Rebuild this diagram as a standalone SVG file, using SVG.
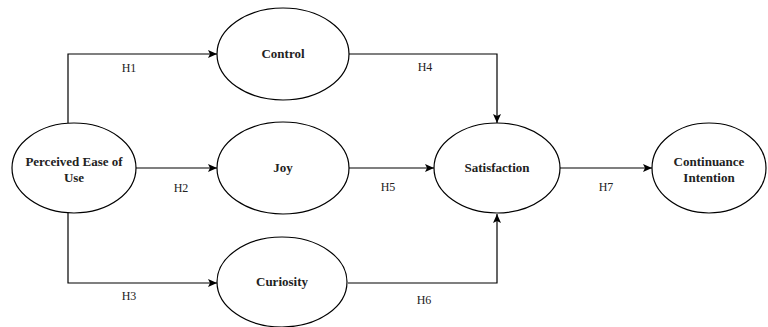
<svg xmlns="http://www.w3.org/2000/svg" width="768" height="327" viewBox="0 0 768 327">
<style>
.n{fill:#fff;stroke:#000;stroke-width:1.2}
.t{font-weight:bold;font-size:13px;fill:#222;text-anchor:middle}
.l{font-size:12px;fill:#222;text-anchor:middle}
.c{fill:none;stroke:#000;stroke-width:1.2;marker-end:url(#a)}
</style>
<defs>
<marker id="a" markerWidth="10" markerHeight="8" refX="9" refY="4" orient="auto" markerUnits="userSpaceOnUse">
<path d="M0,0 L9,4 L0,8 L2,4 Z" fill="#000"/>
</marker>
</defs>
<rect width="768" height="327" fill="#fff"/>
<g id="connectors" font-family="'Liberation Serif', 'Times New Roman', 'DejaVu Serif', serif">
<path class="c" d="M68,123 V54 H217"/>
<path class="c" d="M136,168 H217"/>
<path class="c" d="M68,213 V283 H217"/>
<path class="c" d="M349,54 H497 V123"/>
<path class="c" d="M349,168 H434"/>
<path class="c" d="M348,283 H497 V214"/>
<path class="c" d="M560,168 H652"/>
<text class="l" x="129" y="72">H1</text>
<text class="l" x="181" y="192">H2</text>
<text class="l" x="129" y="300">H3</text>
<text class="l" x="425" y="71">H4</text>
<text class="l" x="388" y="191">H5</text>
<text class="l" x="424" y="304">H6</text>
<text class="l" x="606" y="191">H7</text>
</g>
<g font-family="'Liberation Serif', 'Times New Roman', 'DejaVu Serif', serif">
<g id="peou">
<ellipse class="n" cx="74" cy="168" rx="62" ry="45"/>
<text class="t" x="74" y="166">Perceived Ease of</text>
<text class="t" x="74" y="182">Use</text>
</g>
<g id="control">
<ellipse class="n" cx="283" cy="54" rx="66" ry="46"/>
<text class="t" x="283" y="58">Control</text>
</g>
<g id="joy">
<ellipse class="n" cx="283" cy="168" rx="66" ry="46"/>
<text class="t" x="283" y="172">Joy</text>
</g>
<g id="curiosity">
<ellipse class="n" cx="282" cy="282" rx="65" ry="45"/>
<text class="t" x="282" y="286">Curiosity</text>
</g>
<g id="satisfaction">
<ellipse class="n" cx="497" cy="168" rx="63" ry="45"/>
<text class="t" x="497" y="172">Satisfaction</text>
</g>
<g id="continuance">
<ellipse class="n" cx="709" cy="168" rx="57" ry="45"/>
<text class="t" x="709" y="166">Continuance</text>
<text class="t" x="709" y="182">Intention</text>
</g>
</g>
</svg>
